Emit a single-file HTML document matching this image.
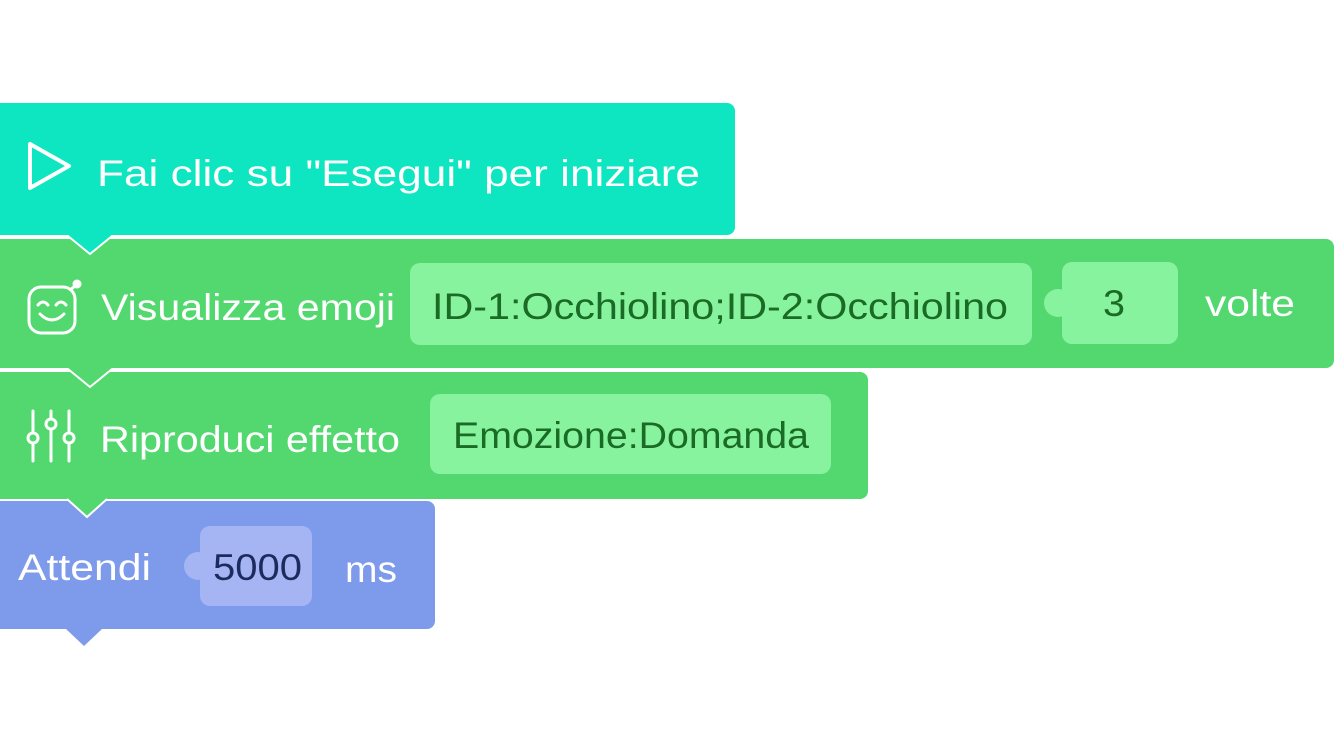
<!DOCTYPE html>
<html><head><meta charset="utf-8"><style>
html,body{margin:0;padding:0;background:#fff;width:1334px;height:750px;overflow:hidden}
text{font-family:"Liberation Sans","DejaVu Sans",sans-serif}
</style></head><body>
<svg width="1334" height="750" viewBox="0 0 1334 750" xmlns="http://www.w3.org/2000/svg">
<path d="M0 501 H427 a8 8 0 0 1 8 8 V621 a8 8 0 0 1 -8 8 H102 L84 646 L66 629 H0 Z" fill="#7e9aea"/>
<path d="M0 372 H860 a8 8 0 0 1 8 8 V491 a8 8 0 0 1 -8 8 H0 Z" fill="#53d86f"/>
<path d="M66 498 L87 517 L108 498 Z" fill="#53d86f"/>
<polyline points="67,499 87,517 107,499" fill="none" stroke="#fff" stroke-width="2"/>
<path d="M0 239 H1326 a8 8 0 0 1 8 8 V360 a8 8 0 0 1 -8 8 H0 Z" fill="#53d86f"/>
<path d="M67 367 L90 387 L113 367 Z" fill="#53d86f"/>
<polyline points="68,369 90,387 112,369" fill="none" stroke="#fff" stroke-width="2"/>
<path d="M0 103 H727 a8 8 0 0 1 8 8 V227 a8 8 0 0 1 -8 8 H0 Z" fill="#0de6c0"/>
<path d="M67 234 L90 254 L113 234 Z" fill="#0de6c0"/>
<polyline points="68,236 90,254 112,236" fill="none" stroke="#fff" stroke-width="2"/>
<path d="M30 144 L30 188 L69 166 Z" fill="none" stroke="#fff" stroke-width="4" stroke-linejoin="round"/>
<rect x="29" y="287" width="46" height="46" rx="12" fill="none" stroke="#fff" stroke-width="3"/>
<circle cx="77" cy="284" r="4.5" fill="#fff"/>
<line x1="70" y1="290" x2="75" y2="286" stroke="#fff" stroke-width="3"/>
<path d="M38 305 q5 -6 10 0 M56 305 q5 -6 10 0 M40 314 q12 12 24 0" fill="none" stroke="#fff" stroke-width="3" stroke-linecap="round"/>
<g stroke="#fff" stroke-width="3" fill="none" stroke-linecap="round">
<line x1="33" y1="411" x2="33" y2="432"/><circle cx="33" cy="438" r="5"/><line x1="33" y1="444" x2="33" y2="461"/>
<line x1="51" y1="411" x2="51" y2="418"/><circle cx="51" cy="424" r="5"/><line x1="51" y1="430" x2="51" y2="461"/>
<line x1="69" y1="411" x2="69" y2="432"/><circle cx="69" cy="438" r="5"/><line x1="69" y1="444" x2="69" y2="461"/>
</g>
<rect x="410" y="263" width="622" height="82" rx="10" fill="#88f39e"/>
<circle cx="1058" cy="303" r="14" fill="#88f39e"/>
<rect x="1062" y="262" width="116" height="82" rx="10" fill="#88f39e"/>
<rect x="430" y="394" width="401" height="80" rx="10" fill="#88f39e"/>
<circle cx="198" cy="566" r="14" fill="#a5b5f3"/>
<rect x="200" y="526" width="112" height="80" rx="10" fill="#a5b5f3"/>
<g font-size="37" fill="#fff">
<text x="97" y="186" textLength="603" lengthAdjust="spacingAndGlyphs">Fai clic su "Esegui" per iniziare</text>
<text x="101" y="320" textLength="294" lengthAdjust="spacingAndGlyphs">Visualizza emoji</text>
<text x="1205" y="316" textLength="90" lengthAdjust="spacingAndGlyphs">volte</text>
<text x="100" y="452" textLength="300" lengthAdjust="spacingAndGlyphs">Riproduci effetto</text>
<text x="18" y="580" textLength="133" lengthAdjust="spacingAndGlyphs">Attendi</text>
<text x="345" y="582" textLength="52" lengthAdjust="spacingAndGlyphs">ms</text>
</g>
<g font-size="37" fill="#1a6b25">
<text x="432" y="319" textLength="576" lengthAdjust="spacingAndGlyphs">ID-1:Occhiolino;ID-2:Occhiolino</text>
<text x="1103" y="316" textLength="22" lengthAdjust="spacingAndGlyphs">3</text>
<text x="453" y="448" textLength="356" lengthAdjust="spacingAndGlyphs">Emozione:Domanda</text>
</g>
<text x="213" y="580" font-size="37" fill="#1c2a5e" textLength="89" lengthAdjust="spacingAndGlyphs">5000</text>
</svg>
</body></html>
